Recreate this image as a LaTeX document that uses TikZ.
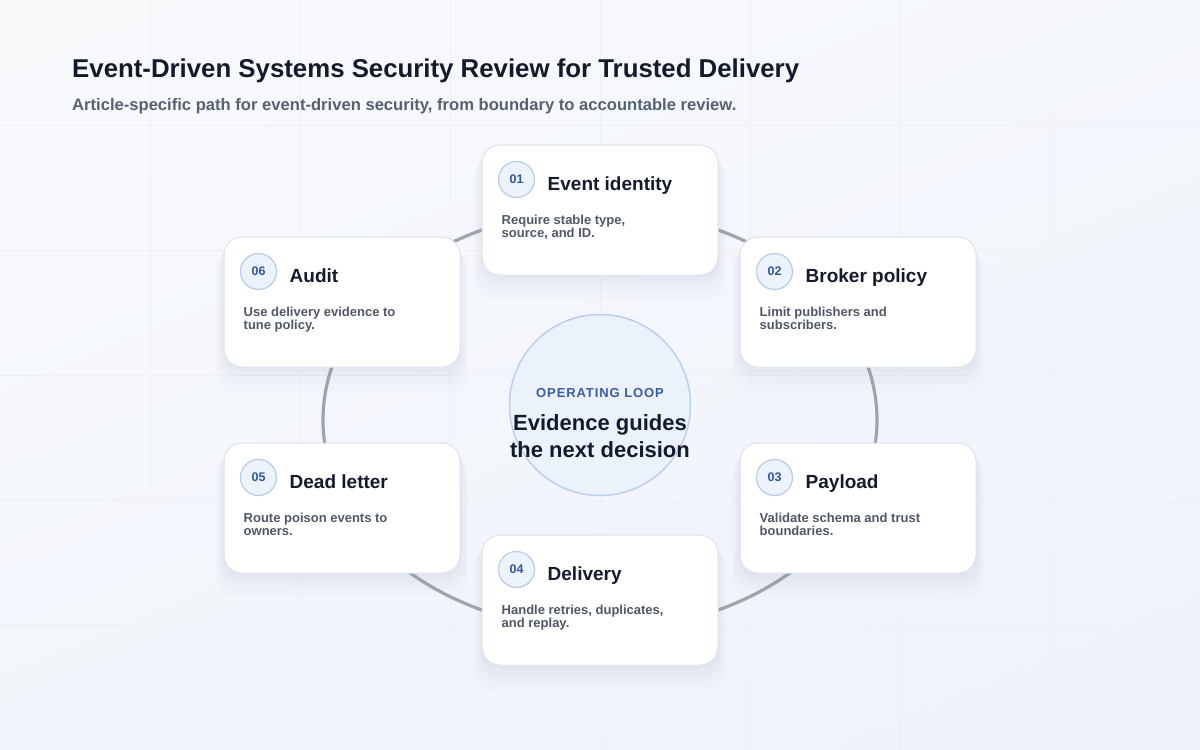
\documentclass[tikz,border=0pt]{standalone}
\usepackage{fontspec}
\setmainfont{Liberation Sans}
\usetikzlibrary{shadows,shadings}

\definecolor{inkdark}{HTML}{131A2B}
\definecolor{inkgray}{HTML}{566173}
\definecolor{bodygray}{HTML}{4F5867}
\definecolor{badgeblue}{HTML}{2F56A0}
\definecolor{badgefill}{HTML}{EDF3FD}
\definecolor{badgeline}{HTML}{B9CBE8}
\definecolor{ringgray}{HTML}{9EA4B0}
\definecolor{cardline}{HTML}{DDE3EC}
\definecolor{gridcol}{HTML}{EDF0F5}
\definecolor{loopfill}{HTML}{ECF2FC}
\definecolor{loopline}{HTML}{BCCFEE}
\definecolor{loopblue}{HTML}{3A5DA8}
\definecolor{shadowcol}{HTML}{7F8FAD}
\definecolor{bgtop}{HTML}{F9FAFC}
\definecolor{bgbottom}{HTML}{EDF2FB}

\begin{document}
\begin{tikzpicture}[x=1pt, y=-1pt,
	card/.style = {draw=cardline, line width=1pt, fill=white, rounded corners=18pt,
		minimum width=236pt, minimum height=130pt, inner sep=0pt,
		general shadow={fill=shadowcol, opacity=.025, shadow yshift=-18pt, shadow scale=1.07},
		general shadow={fill=shadowcol, opacity=.03, shadow yshift=-13pt, shadow scale=1.05},
		general shadow={fill=shadowcol, opacity=.035, shadow yshift=-8pt, shadow scale=1.03},
		general shadow={fill=shadowcol, opacity=.04, shadow yshift=-4pt, shadow scale=1.01}},
	badge/.style = {circle, draw=badgeline, line width=1.2pt, fill=badgefill, minimum size=36pt,
		inner sep=0pt, text=badgeblue, font=\fontsize{12.5}{12.5}\selectfont\bfseries},
	cardtitle/.style = {anchor=base west, inner sep=0pt, text=inkdark, font=\fontsize{19}{19}\selectfont\bfseries},
	cardtext/.style = {anchor=base west, inner sep=0pt, align=left, text=bodygray, font=\fontsize{13}{13}\selectfont\bfseries},
	ring/.style = {draw=ringgray, line width=3.2pt},
	gridline/.style = {draw=gridcol, line width=1pt}]

	% background and faint grid
	\useasboundingbox (0,0) rectangle (1200,750);
	\shade[upper left=bgtop, upper right=bgtop!60!bgbottom, lower left=bgtop!40!bgbottom, lower right=bgbottom] (0,0) rectangle (1200,750);
	\foreach \x in {150,300,...,1050}
		\draw[gridline] (\x,0) -- (\x,750);
	\foreach \y in {125,250,...,625}
		\draw[gridline] (0,\y) -- (1200,\y);

	% heading
	\node[anchor=base west, inner sep=0pt, text=inkdark, font=\fontsize{25.8}{26}\selectfont\bfseries] (title) at (72,77)
		{Event-Driven Systems Security Review for Trusted Delivery};
	\node[anchor=base west, inner sep=0pt, text=inkgray, font=\fontsize{16.6}{17}\selectfont\bfseries] (subtitle) at (72,110)
		{Article-specific path for event-driven security, from boundary to accountable review.};

	% loop behind the cards
	\draw[ring] (600,420) ellipse [x radius = 277, y radius = 210];

	% centre
	\node[circle, draw=loopline, line width=1.5pt, fill=loopfill, minimum size=181pt] (loop) at (600,405) {};
	\node[anchor=base, inner sep=0pt, text=loopblue, font=\fontsize{13}{13}\selectfont\bfseries] (loop-label) at (600,397)
		{\addfontfeatures{LetterSpace=7}OPERATING LOOP};
	\node[anchor=base, inner sep=0pt, text=inkdark, font=\fontsize{22}{22}\selectfont\bfseries] (loop-line1) at (600,430) {Evidence guides};
	\node[anchor=base, inner sep=0pt, text=inkdark, font=\fontsize{22}{22}\selectfont\bfseries] (loop-line2) at (600,457) {the next decision};

	% 01
	\node[card] (identity) at (600,210) {};
	\node[badge] (identity-num) at ([shift={(35,35)}]identity.north west) {01};
	\node[cardtitle] (identity-title) at ([shift={(66,46)}]identity.north west) {Event identity};
	\node[cardtext] (identity-text) at ([shift={(20,93)}]identity.north west) {Require stable type,\\source, and ID.};

	% 02
	\node[card] (broker) at (858,302) {};
	\node[badge] (broker-num) at ([shift={(35,35)}]broker.north west) {02};
	\node[cardtitle] (broker-title) at ([shift={(66,46)}]broker.north west) {Broker policy};
	\node[cardtext] (broker-text) at ([shift={(20,93)}]broker.north west) {Limit publishers and\\subscribers.};

	% 03
	\node[card] (payload) at (858,508) {};
	\node[badge] (payload-num) at ([shift={(35,35)}]payload.north west) {03};
	\node[cardtitle] (payload-title) at ([shift={(66,46)}]payload.north west) {Payload};
	\node[cardtext] (payload-text) at ([shift={(20,93)}]payload.north west) {Validate schema and trust\\boundaries.};

	% 04
	\node[card] (delivery) at (600,600) {};
	\node[badge] (delivery-num) at ([shift={(35,35)}]delivery.north west) {04};
	\node[cardtitle] (delivery-title) at ([shift={(66,46)}]delivery.north west) {Delivery};
	\node[cardtext] (delivery-text) at ([shift={(20,93)}]delivery.north west) {Handle retries, duplicates,\\and replay.};

	% 05
	\node[card] (deadletter) at (342,508) {};
	\node[badge] (deadletter-num) at ([shift={(35,35)}]deadletter.north west) {05};
	\node[cardtitle] (deadletter-title) at ([shift={(66,46)}]deadletter.north west) {Dead letter};
	\node[cardtext] (deadletter-text) at ([shift={(20,93)}]deadletter.north west) {Route poison events to\\owners.};

	% 06
	\node[card] (audit) at (342,302) {};
	\node[badge] (audit-num) at ([shift={(35,35)}]audit.north west) {06};
	\node[cardtitle] (audit-title) at ([shift={(66,46)}]audit.north west) {Audit};
	\node[cardtext] (audit-text) at ([shift={(20,93)}]audit.north west) {Use delivery evidence to\\tune policy.};
\end{tikzpicture}
\end{document}
